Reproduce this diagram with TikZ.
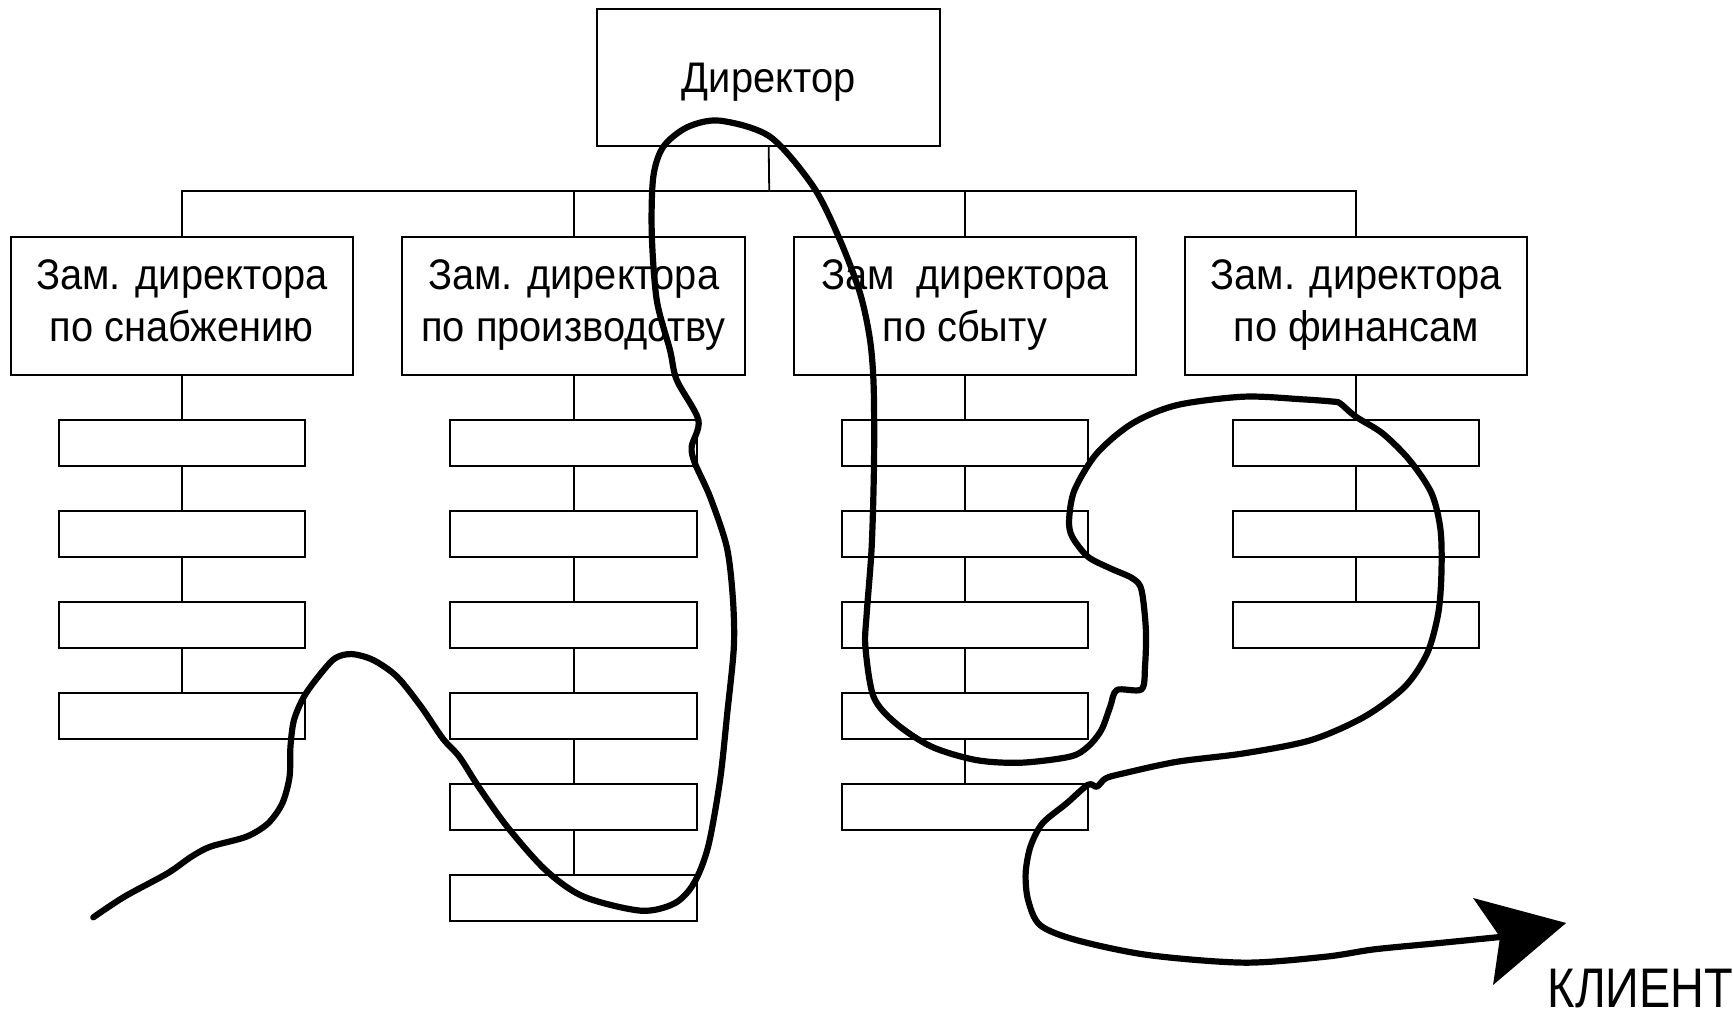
\documentclass[tikz,border=0pt]{standalone}
\usepackage{fontspec}
\setmainfont{Liberation Sans}[FakeStretch=0.93]
\newfontfamily\clientfont{Liberation Sans}[FakeStretch=0.84]
\newcommand\zamfont{\fontsize{21.4pt}{26.15pt}\selectfont}
\newcommand\zs{\rule[-5.25pt]{0pt}{16pt}}
\begin{document}
\begin{tikzpicture}[x=0.5526pt,y=-0.5526pt,
  boxline/.style={draw, line width=1pt, inner sep=0pt, outer sep=0pt},
  zam/.style={boxline, minimum width=171.3pt, minimum height=68.9pt, align=center, font=\zamfont},
  dirbox/.style={boxline, minimum width=171.6pt, minimum height=68.2pt, font=\zamfont, text height=15.3pt, text depth=0pt},
  sub/.style={boxline, minimum width=123.2pt, minimum height=22.9pt},
  link/.style={line width=0.9pt},
  route/.style={line width=3.1pt, line cap=round, line join=round}]
\fill[white] (0,0) rectangle (1568,921);
\useasboundingbox (0,0) rectangle (1568,921);

% boxes
\node[dirbox] (dir) at (695.5,70.2) {Директор};
\node[zam] (z1) at (164.5,277) {Зам. директора\zs\\по снабжению\zs};
\node[zam] (z2) at (519,277) {Зам. директора\zs\\по производству\zs};
\node[zam] (z3) at (873,277) {Зам\ \ директора\zs\\по сбыту\zs};
\node[zam] (z4) at (1227,277) {Зам. директора\zs\\по финансам\zs};

\foreach \c/\x/\n in {1/164.5/4, 2/519/6, 3/873/5, 4/1227/3} {
  \foreach \i in {1,...,\n} {
    \node[sub] (s\c-\i) at (\x,{400.75+82.4*(\i-1)}) {};
  }
}

% connectors
\coordinate (bus) at (696,172.8);
\draw[link] (dir.south) -- (bus);
\draw[link] (z1.north) |- (bus) -| (z4.north);
\draw[link] (z2.north) -- (z2.north |- bus);
\draw[link] (z3.north) -- (z3.north |- bus);
\foreach \c/\n in {1/4, 2/6, 3/5, 4/3} {
  \draw[link] (z\c.south) -- (s\c-1.north);
  \foreach \i in {2,...,\n} {
    \pgfmathtruncatemacro\prv{\i-1}
    \draw[link] (s\c-\prv.south) -- (s\c-\i.north);
  }
}

% hand-drawn route
\coordinate (notch) at (1357.2,847.8);
\draw[route] plot[smooth, tension=0.5] coordinates {
(84.4,830) (112.6,811.3) (151.5,790.2) (173.2,775.1) (190.5,766) (223,757)
(242.5,745) (255.4,726.9) (262,702.8) (262.8,675.6) (266,651.5) (275,630.4)
(287.9,612.3) (303,595.7) (318.2,591.8) (337.7,597.2) (359.3,612.3) (381,639.4)
(400.5,668) (415.6,684.7) (433,711.8) (458.9,748) (493.6,787.2) (528.2,811.3)
(580,824) (610.4,817.3) (627.8,799.2) (640.7,766.1) (651.5,705.8) (658,645.4)
(664,585) (663,540) (657.5,494.6) (642.4,449.4) (628.8,419.2) (625.8,404.2)
(631.9,380) (612.3,343.8) (606.2,316.7) (594.2,271.4) (589.7,211.1) (591.1,159.9)
(600.2,132.7) (622,115) (651.5,109.2) (696.7,123.7) (735.9,168.9) (760,217.2)
(778.2,265.4) (787.2,307.6) (790.5,350) (790.8,419.2) (788.7,494.6) (784.2,555)
(783,585.1) (790.4,630.4) (810.6,654.5) (842.9,675.6) (883.3,687.7) (923.7,690.1)
(968.1,684.6) (984.3,675.6) (996.5,660.5) (1004.5,639.4) (1010.6,624.3) (1032.8,623.7)
(1036,603.2) (1036.8,570) (1032.8,533.8) (1024.7,523.3) (1004.5,514.2) (984.3,503.7)
(970.1,485.6) (967.3,470.5) (972.2,443.4) (992.4,410.2) (1024.7,383) (1065.1,366.5)
(1125.7,358.9) (1178.2,361.3) (1206.5,363.4) (1212.6,365) (1226.7,377) (1250.9,392.1)
(1275.2,416.2) (1295.3,446.4) (1303.4,479.6) (1304.2,518.8) (1301.3,555) (1291.3,591.1)
(1271.1,621.3) (1234.7,648.4) (1186.3,669.6) (1125.7,681.6) (1065.1,689.2) (1016.6,699.7)
(1000.5,704.2) (992.4,711.8) (984.5,710) (965,726.9) (943.2,745) (932.3,766.1)
(928,790.2) (930.2,814.3) (941,837) (973.6,850.5) (1038.8,864.1) (1125.8,871)
(1199.6,865.6) (1243,859) (1299.6,853.5) (1357.2,847.8)};
\fill (1332.8,812.5) -- (1417,835.1) -- (1350.9,891.2) -- (notch) -- cycle;

\node[anchor=base west, inner sep=0pt, font=\clientfont\fontsize{27.9pt}{30pt}\selectfont] (client) at (1400,912) {КЛИЕНТ};
\end{tikzpicture}
\end{document}
